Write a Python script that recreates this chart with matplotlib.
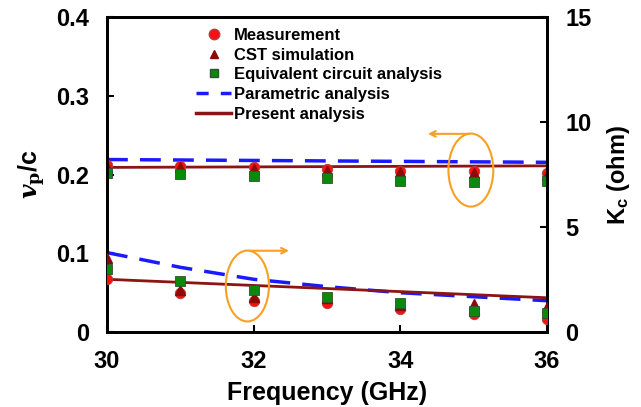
import matplotlib
matplotlib.use("Agg")
import matplotlib.pyplot as plt
from matplotlib.patches import Ellipse
from matplotlib.lines import Line2D

plt.rcParams['font.family'] = ['Liberation Sans', 'DejaVu Sans']
plt.rcParams['font.weight'] = 'bold'
plt.rcParams['mathtext.fontset'] = 'dejavuserif'

# Data
freq = [30, 31, 32, 33, 34, 35, 36]
# phase velocity (left axis)
vp_meas = [0.212, 0.211, 0.209, 0.207, 0.205, 0.204, 0.202]
vp_cst = [0.210, 0.209, 0.207, 0.205, 0.203, 0.202, 0.200]
vp_eq = [0.2015, 0.2006, 0.1985, 0.195, 0.192, 0.191, 0.192]
vp_param_f = [30, 36]
vp_param = [0.219, 0.2155]
vp_present_f = [30, 36]
vp_present = [0.209, 0.211]
# interaction impedance (right axis)
kc_meas = [2.51, 1.84, 1.49, 1.40, 1.11, 0.86, 0.60]
kc_cst = [3.51, 2.00, 1.68, 1.60, 1.30, 1.33, 1.18]
kc_eq = [3.00, 2.43, 2.00, 1.68, 1.40, 1.00, 0.89]
kc_param = [3.78, 3.08, 2.51, 2.16, 1.87, 1.68, 1.49]
kc_present_f = [30, 36]
kc_present = [2.51, 1.63]

xticks = [30, 32, 34, 36]
yticks_left = [0, 0.1, 0.2, 0.3, 0.4]
yticks_left_labels = ['0', '0.1', '0.2', '0.3', '0.4']
yticks_right = [0, 5, 10, 15]

c_meas = '#ff1010'
c_cst = '#8b0a0a'
c_eq = '#0a8a0a'
c_param = '#1a1aff'
c_present = '#8b1414'
c_orange = '#f7a024'

fig = plt.figure(figsize=(6.41, 4.07), dpi=100)
ax = fig.add_axes([107/641, (407-332)/407, 440/641, 315/407])
ax2 = ax.twinx()

ms_c = 7.5
ms_t = 6.5
ms_s = 6.5
# left axis data
ax.plot(vp_param_f, vp_param, color=c_param, lw=2.5, dashes=(6, 3.5), zorder=2)
ax.plot(vp_present_f, vp_present, color=c_present, lw=2, zorder=2)
ax.plot(freq, vp_meas, 'o', color=c_meas, mec='#b04040', mew=0.6, ms=ms_c, zorder=3)
ax.plot(freq, vp_cst, '^', color=c_cst, mec=c_cst, ms=ms_t, zorder=4)
ax.plot(freq, vp_eq, 's', color=c_eq, mec='#305030', mew=0.6, ms=ms_s, zorder=5)

# right axis data
ax2.plot(freq, kc_param, color=c_param, lw=2.5, dashes=(6, 3.5), zorder=2)
ax2.plot(kc_present_f, kc_present, color=c_present, lw=2, zorder=2)
ax2.plot(freq, kc_meas, 'o', color=c_meas, mec='#b04040', mew=0.6, ms=ms_c, zorder=3)
ax2.plot(freq, kc_cst, '^', color=c_cst, mec=c_cst, ms=ms_t, zorder=4)
ax2.plot(freq, kc_eq, 's', color=c_eq, mec='#305030', mew=0.6, ms=ms_s, zorder=5)

ax.set_xlim(30, 36)
ax.set_ylim(0, 0.4)
ax2.set_ylim(0, 15)
ax.set_xticks(xticks)
ax.set_xticklabels([str(t) for t in xticks])
ax.set_yticks(yticks_left)
ax.set_yticklabels(yticks_left_labels)
ax2.set_yticks(yticks_right)
ax2.set_yticklabels([str(t) for t in yticks_right])

for a in (ax, ax2):
    for s in a.spines.values():
        s.set_linewidth(2)
ax.tick_params(axis='both', direction='in', length=5, width=1.5, labelsize=17)
ax.tick_params(axis='y', pad=13)
ax.tick_params(axis='x', pad=13)
ax.tick_params(top=False, right=False)
ax2.tick_params(axis='y', direction='in', length=5, width=1.5, labelsize=17, pad=13)

ax.set_xlabel('Frequency (GHz)', fontsize=18, fontweight='bold', labelpad=6)
ax.set_ylabel(r'$\mathbfit{v}_{\mathrm{p}}$/c', fontsize=18, fontweight='bold', labelpad=6)
ax2.set_ylabel(r'K$_\mathregular{c}$ (ohm)', fontsize=17, fontweight='bold', labelpad=10)

# annotations (ellipses + arrows)
e1 = Ellipse((0.827, 0.514), 0.102, 0.232, transform=ax.transAxes, fill=False,
             ec=c_orange, lw=1.5, zorder=6)
e2 = Ellipse((0.319, 0.146), 0.098, 0.225, transform=ax.transAxes, fill=False,
             ec=c_orange, lw=1.5, zorder=6)
ax2.add_patch(e1)
ax2.add_patch(e2)
ax2.annotate('', xy=(0.723, 0.629), xytext=(0.829, 0.629), xycoords='axes fraction',
             arrowprops=dict(arrowstyle='->', color=c_orange, lw=1.5), zorder=6)
ax2.annotate('', xy=(0.42, 0.258), xytext=(0.3175, 0.258), xycoords='axes fraction',
             arrowprops=dict(arrowstyle='->', color=c_orange, lw=1.5), zorder=6)

# legend
handles = [
    Line2D([], [], ls='none', marker='o', color=c_meas, mec='#b04040', ms=7.5),
    Line2D([], [], ls='none', marker='^', color=c_cst, ms=6),
    Line2D([], [], ls='none', marker='s', color=c_eq, mec='#305030', ms=6),
    Line2D([], [], color=c_param, lw=2.5, dashes=(3.5, 3.5)),
    Line2D([], [], color=c_present, lw=2.5),
]
labels = ['Measurement', 'CST simulation', 'Equivalent circuit analysis',
          'Parametric analysis', 'Present analysis']
leg = ax2.legend(handles, labels, loc='upper left', bbox_to_anchor=(196/641, 1 - 28/407),
                 bbox_transform=fig.transFigure, frameon=False, fontsize=12,
                 handlelength=2.1, handletextpad=0.2, labelspacing=0.28,
                 borderpad=0, borderaxespad=0)
for t in leg.get_texts():
    t.set_fontweight('bold')

fig.savefig('out.png', dpi=100)
